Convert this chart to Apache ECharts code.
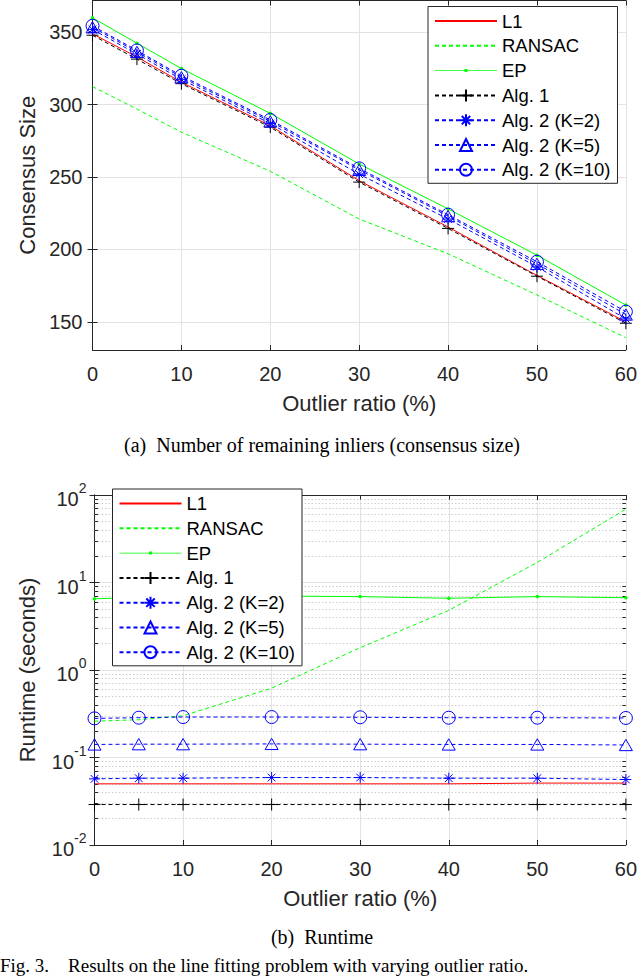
<!DOCTYPE html>
<html><head><meta charset="utf-8">
<script src="https://cdn.jsdelivr.net/npm/echarts@6/dist/echarts.min.js"></script>
<style>html,body{margin:0;padding:0;background:#fff}#c{width:640px;height:979px}</style>
</head><body><div id="c"></div>
<script>
// ---------- data ----------
const outlierRatio = [0, 5, 10, 20, 30, 40, 50, 60];
const seriesNames = ['L1', 'RANSAC', 'EP', 'Alg. 1', 'Alg. 2 (K=2)', 'Alg. 2 (K=5)', 'Alg. 2 (K=10)'];

// (a) consensus size
const sizeL1     = [349, 333, 315.5, 285.5, 247.5, 215.5, 182, 150];
const sizeRansac = [312.5, 297, 281, 254, 221, 197, 168.5, 139];
const sizeEP     = [360, 342.5, 325, 294, 259, 228, 196, 161.5];
const sizeAlg1   = [348, 331.5, 314.5, 284.5, 246.5, 214.5, 181.5, 149];
const sizeK2     = [352, 335, 317.5, 287, 252, 221, 188, 152];
const sizeK5     = [353.5, 336.5, 319, 288.5, 255, 223, 190, 155];
const sizeK10    = [354.5, 337.5, 320, 289.5, 256, 224, 191.5, 157];

// (b) runtime (seconds)
const timeL1     = [0.050, 0.050, 0.050, 0.050, 0.050, 0.050, 0.051, 0.051];
const timeRansac = [0.26, 0.27, 0.30, 0.62, 1.8, 4.8, 17, 69];
const timeEP     = [6.5, 6.8, 7.0, 7.0, 6.9, 6.6, 6.9, 6.7];
const timeAlg1   = [0.029, 0.029, 0.029, 0.029, 0.029, 0.029, 0.029, 0.029];
const timeK2     = [0.057, 0.058, 0.058, 0.059, 0.059, 0.058, 0.058, 0.056];
const timeK5     = [0.141, 0.142, 0.142, 0.143, 0.142, 0.141, 0.141, 0.139];
const timeK10    = [0.28, 0.285, 0.29, 0.29, 0.288, 0.285, 0.285, 0.283];

// tick labels / grid values
const sizeTicks = [150, 200, 250, 300, 350];
const logMinorTicks = [0.02,0.03,0.04,0.05,0.06,0.07,0.08,0.09,
                       0.2,0.3,0.4,0.5,0.6,0.7,0.8,0.9,
                       2,3,4,5,6,7,8,9,
                       20,30,40,50,60,70,80,90];

// ---------- styles ----------
const FONT = '"Liberation Sans", Arial, Helvetica, sans-serif';
const SERIF = '"Liberation Serif", "Times New Roman", serif';
const AXC = '#262626';
const plusPath = 'path://M5,0L5,10M0,5L10,5';
const starPath = 'path://M5,0L5,10M0,5L10,5M1.5,1.5L8.5,8.5M8.5,1.5L1.5,8.5';
const triPath = 'path://M5,0L10,8.7L0,8.7Z';
const circPath = 'path://M10,5A5,5,0,1,1,0,5A5,5,0,1,1,10,5Z';
const epIcon = 'path://M0,6.6L62,6.6L62,7.4L0,7.4Z M29.5,5.5L32.5,5.5L32.5,8.5L29.5,8.5Z';
const DASH = [4, 3];

const styles = {
  'L1':            {color: '#ff0000', type: 'solid', symbol: 'none', size: 0, fill: 'none', bw: 0},
  'RANSAC':        {color: '#00ff00', type: DASH, symbol: 'none', size: 0, fill: 'none', bw: 0},
  'EP':            {color: '#00ff00', type: 'solid', symbol: 'circle', size: 3.5, fill: '#00ff00', bw: 0},
  'Alg. 1':        {color: '#000000', type: DASH, symbol: plusPath, size: 12, fill: 'none', bw: 1},
  'Alg. 2 (K=2)':  {color: '#0000ff', type: DASH, symbol: starPath, size: 11, fill: 'none', bw: 1},
  'Alg. 2 (K=5)':  {color: '#0000ff', type: DASH, symbol: triPath, size: 13, fill: 'none', bw: 1},
  'Alg. 2 (K=10)': {color: '#0000ff', type: DASH, symbol: circPath, size: 13, fill: 'none', bw: 1}
};

function mk(name, vals, g, extra) {
  const st = styles[name];
  return Object.assign({
    name: name, type: 'line', xAxisIndex: g * 2, yAxisIndex: g * 2,
    data: outlierRatio.map((x, i) => [x, vals[i]]),
    symbol: st.symbol, symbolSize: st.size, showSymbol: st.symbol !== 'none',
    symbolKeepAspect: true,
    lineStyle: {color: st.color, width: 1, type: st.type},
    itemStyle: {color: st.fill, borderColor: st.color, borderWidth: st.bw},
    emphasis: {disabled: true}, silent: true, animation: false, z: 3
  }, extra || {});
}

const minorGrid = logMinorTicks.map(v => ({yAxis: v}));
const minorTicksL = logMinorTicks.map(v => [{coord: [0, v], lineStyle: {color: AXC, type: 'solid', width: 1}}, {coord: [0.4, v]}]);
const minorTicksR = logMinorTicks.map(v => [{coord: [59.6, v], lineStyle: {color: AXC, type: 'solid', width: 1}}, {coord: [60, v]}]);

const seriesA = [
  mk('L1', sizeL1, 0), mk('RANSAC', sizeRansac, 0), mk('EP', sizeEP, 0), mk('Alg. 1', sizeAlg1, 0),
  mk('Alg. 2 (K=2)', sizeK2, 0), mk('Alg. 2 (K=5)', sizeK5, 0), mk('Alg. 2 (K=10)', sizeK10, 0)
];
const seriesB = [
  mk('L1', timeL1, 1, {markLine: {silent: true, symbol: 'none', z: 1, animation: false,
      label: {show: false}, lineStyle: {color: '#cfcfcf', type: [1.5, 2], width: 1},
      data: minorGrid.concat(minorTicksL, minorTicksR)}}),
  mk('RANSAC', timeRansac, 1), mk('EP', timeEP, 1), mk('Alg. 1', timeAlg1, 1),
  mk('Alg. 2 (K=2)', timeK2, 1), mk('Alg. 2 (K=5)', timeK5, 1), mk('Alg. 2 (K=10)', timeK10, 1)
];

const axisLine = {show: true, lineStyle: {color: AXC, width: 1}};
const gridLine = {show: true, lineStyle: {color: '#e3e3e3', width: 1}};
const tickLbl = {color: AXC, fontSize: 20, fontFamily: FONT};

function xAxes(g) {
  return [
    {type: 'value', gridIndex: g, min: 0, max: 60, interval: 10, position: 'bottom',
     axisLine: axisLine, axisTick: {inside: true, length: 5, lineStyle: {color: AXC}},
     axisLabel: Object.assign({margin: 14}, tickLbl), splitLine: gridLine,
     name: 'Outlier ratio (%)', nameLocation: 'middle', nameGap: 42,
     nameTextStyle: {color: AXC, fontSize: 22, fontFamily: FONT}},
    {type: 'value', gridIndex: g, min: 0, max: 60, interval: 10, position: 'top',
     axisLine: axisLine, axisTick: {inside: true, length: 5, lineStyle: {color: AXC}},
     axisLabel: {show: false}, splitLine: {show: false}}
  ];
}

const legendBase = {
  orient: 'vertical', itemWidth: 62, itemHeight: 15, itemGap: 5.8,
  padding: [5, 7, 4, 6], backgroundColor: '#fff', borderColor: AXC, borderWidth: 1,
  selectedMode: false, textStyle: {color: '#000', fontSize: 18.5, fontFamily: FONT, lineHeight: 19},
  data: seriesNames.map(n => n === 'EP' ? {name: n, icon: epIcon} : {name: n})
};

const option = {
  backgroundColor: '#fff',
  animation: false,
  grid: [
    {left: 92.5, right: 13.5, top: 0.5, height: 349.5},
    {left: 94.5, right: 12, top: 495, height: 350}
  ],
  xAxis: xAxes(0).concat(xAxes(1)),
  yAxis: [
    {type: 'value', gridIndex: 0, min: 130.5, max: 372, position: 'left',
     axisLine: axisLine, axisTick: {inside: true, length: 5, customValues: sizeTicks, lineStyle: {color: AXC}},
     axisLabel: Object.assign({margin: 10, customValues: sizeTicks}, tickLbl), splitLine: gridLine,
     name: 'Consensus Size', nameLocation: 'middle', nameGap: 52,
     nameTextStyle: {color: AXC, fontSize: 22, fontFamily: FONT}},
    {type: 'value', gridIndex: 0, min: 130.5, max: 372, position: 'right',
     axisLine: axisLine, axisTick: {inside: true, length: 5, customValues: sizeTicks, lineStyle: {color: AXC}},
     axisLabel: {show: false}, splitLine: {show: false}},
    {type: 'log', logBase: 10, gridIndex: 1, min: 0.01, max: 100, position: 'left',
     axisLine: axisLine, axisTick: {inside: true, length: 5, lineStyle: {color: AXC}},
     axisLabel: {margin: 8, formatter: v => '{b|10}{s|' + Math.round(Math.log10(v)) + '}',
       rich: {b: {fontSize: 20, fontFamily: FONT, color: AXC, lineHeight: 28, verticalAlign: 'bottom'},
              s: {fontSize: 14, fontFamily: FONT, color: AXC, lineHeight: 28, verticalAlign: 'top'}}},
     splitLine: gridLine,
     name: 'Runtime (seconds)', nameLocation: 'middle', nameGap: 56,
     nameTextStyle: {color: AXC, fontSize: 22, fontFamily: FONT}},
    {type: 'log', logBase: 10, gridIndex: 1, min: 0.01, max: 100, position: 'right',
     axisLine: axisLine, axisTick: {inside: true, length: 5, lineStyle: {color: AXC}},
     axisLabel: {show: false}, splitLine: {show: false}}
  ],
  legend: [
    Object.assign({}, legendBase, {left: 428, top: 6.5}),
    Object.assign({}, legendBase, {left: 112.5, top: 489})
  ],
  series: seriesA.concat(seriesB),
  graphic: [
    {type: 'text', x: 322, y: 445, silent: true,
     style: {text: '(a)  Number of remaining inliers (consensus size)', font: '20px ' + SERIF,
             fill: '#000', textAlign: 'center', textVerticalAlign: 'middle'}},
    {type: 'text', x: 322, y: 937, silent: true,
     style: {text: '(b)  Runtime', font: '20px ' + SERIF,
             fill: '#000', textAlign: 'center', textVerticalAlign: 'middle'}},
    {type: 'text', x: 0, y: 956, silent: true,
     style: {text: 'Fig. 3.    Results on the line fitting problem with varying outlier ratio.', font: '19px ' + SERIF,
             fill: '#000', textAlign: 'left', textVerticalAlign: 'top'}}
  ]
};

const chart = echarts.init(document.getElementById('c'), null, {renderer: 'svg'});
chart.setOption(option);
</script>
</body></html>
